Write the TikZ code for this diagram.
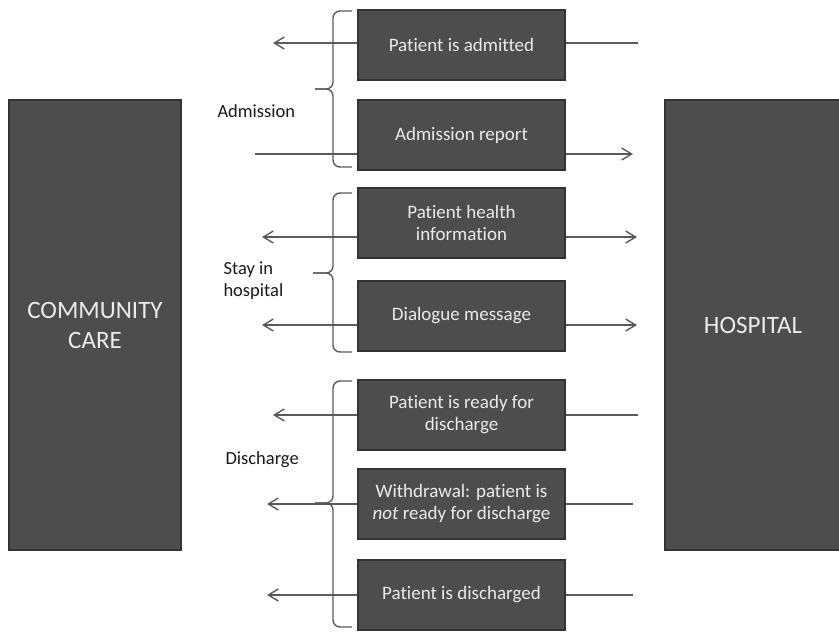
\documentclass[tikz,border=0pt]{standalone}
\usepackage{fontspec}
\setmainfont[Ligatures=NoCommon]{Carlito}
\usetikzlibrary{arrows.meta}
\definecolor{boxgray}{HTML}{4D4D4D}
\definecolor{edgegray}{HTML}{333333}
\definecolor{linegray}{HTML}{5A5A5A}
\tikzset{
  >={Straight Barb[length=10pt,width=12pt]},
  side/.style ={draw=edgegray, line width=2pt, fill=boxgray, text=white!92!black, minimum width=172pt, minimum height=450pt, align=center, font=\fontsize{25}{30}\selectfont},
  msg/.style  ={draw=edgegray, line width=2pt, fill=boxgray, text=white!92!black, minimum width=207pt, minimum height=70pt, align=center, font=\fontsize{19}{22}\selectfont},
  phase/.style={anchor=west, align=left, text=black!90, font=\fontsize{18.5}{22}\selectfont},
  flow/.style ={draw=linegray, line width=1.4pt},
  brc/.style  ={draw=linegray, line width=1.4pt, rounded corners=7pt}
}

\begin{document}
\begin{tikzpicture}[x=1pt,y=-1pt]
\useasboundingbox (0,0) rectangle (839,635);

% the two parties
\node[side] (cc) at (95,325) {COMMUNITY\\CARE};
\node[side, minimum width=176pt] (hosp) at (753,325) {HOSPITAL};

% messages
\node[msg] (adm)   at (461.5,44.5)  {Patient is admitted};
\node[msg] (rep)   at (461.5,135)   {Admission report};
\node[msg] (info)  at (461.5,223)   {Patient health\\information};
\node[msg] (dia)   at (461.5,316)   {Dialogue message};
\node[msg] (ready) at (461.5,414.5) {Patient is ready for\\discharge};
\node[msg] (wdr)   at (461.5,503.5) {Withdrawal: patient is\\\textit{not} ready for discharge};
\node[msg] (dis)   at (461.5,594.5) {Patient is discharged};

% phases
\node[phase] (lAdm)  at (214,111) {Admission};
\node[phase] (lStay) at (220,281) {Stay in\\hospital};
\node[phase] (lDis)  at (222,460) {Discharge};

% line ends
\coordinate (a1) at (273,43);  \coordinate (a2) at (638,43);
\coordinate (b1) at (255,154); \coordinate (b2) at (633,154);
\coordinate (c1) at (262,237); \coordinate (c2) at (637,237);
\coordinate (d1) at (262,325); \coordinate (d2) at (637,325);
\coordinate (e1) at (273,415); \coordinate (e2) at (638,415);
\coordinate (f1) at (267,504); \coordinate (f2) at (633,504);
\coordinate (g1) at (267,595); \coordinate (g2) at (633,595);

% braces
\draw[brc] (352,11) -- (333,11) -- (333,89) -- (315,89);
\draw[brc] (352,167) -- (333,167) -- (333,89) -- (315,89);
\draw[brc] (352,193) -- (333,193) -- (333,273) -- (313,273);
\draw[brc] (352,352) -- (333,352) -- (333,273) -- (313,273);
\draw[brc] (352,381) -- (333,381) -- (333,503) -- (315,503);
\draw[brc] (352,627) -- (333,627) -- (333,503) -- (315,503);

% flows
\draw[flow] (a2) -- (a2 -| adm.east);
\draw[flow,->] (adm.west |- a1) -- (a1);
\draw[flow] (b1) -- (b1 -| rep.west);
\draw[flow,->] (rep.east |- b2) -- (b2);
\draw[flow,->] (info.west |- c1) -- (c1);
\draw[flow,->] (info.east |- c2) -- (c2);
\draw[flow,->] (dia.west |- d1) -- (d1);
\draw[flow,->] (dia.east |- d2) -- (d2);
\draw[flow] (e2) -- (e2 -| ready.east);
\draw[flow,->] (ready.west |- e1) -- (e1);
\draw[flow] (f2) -- (f2 -| wdr.east);
\draw[flow,->] (wdr.west |- f1) -- (f1);
\draw[flow] (g2) -- (g2 -| dis.east);
\draw[flow,->] (dis.west |- g1) -- (g1);
\end{tikzpicture}
\end{document}
